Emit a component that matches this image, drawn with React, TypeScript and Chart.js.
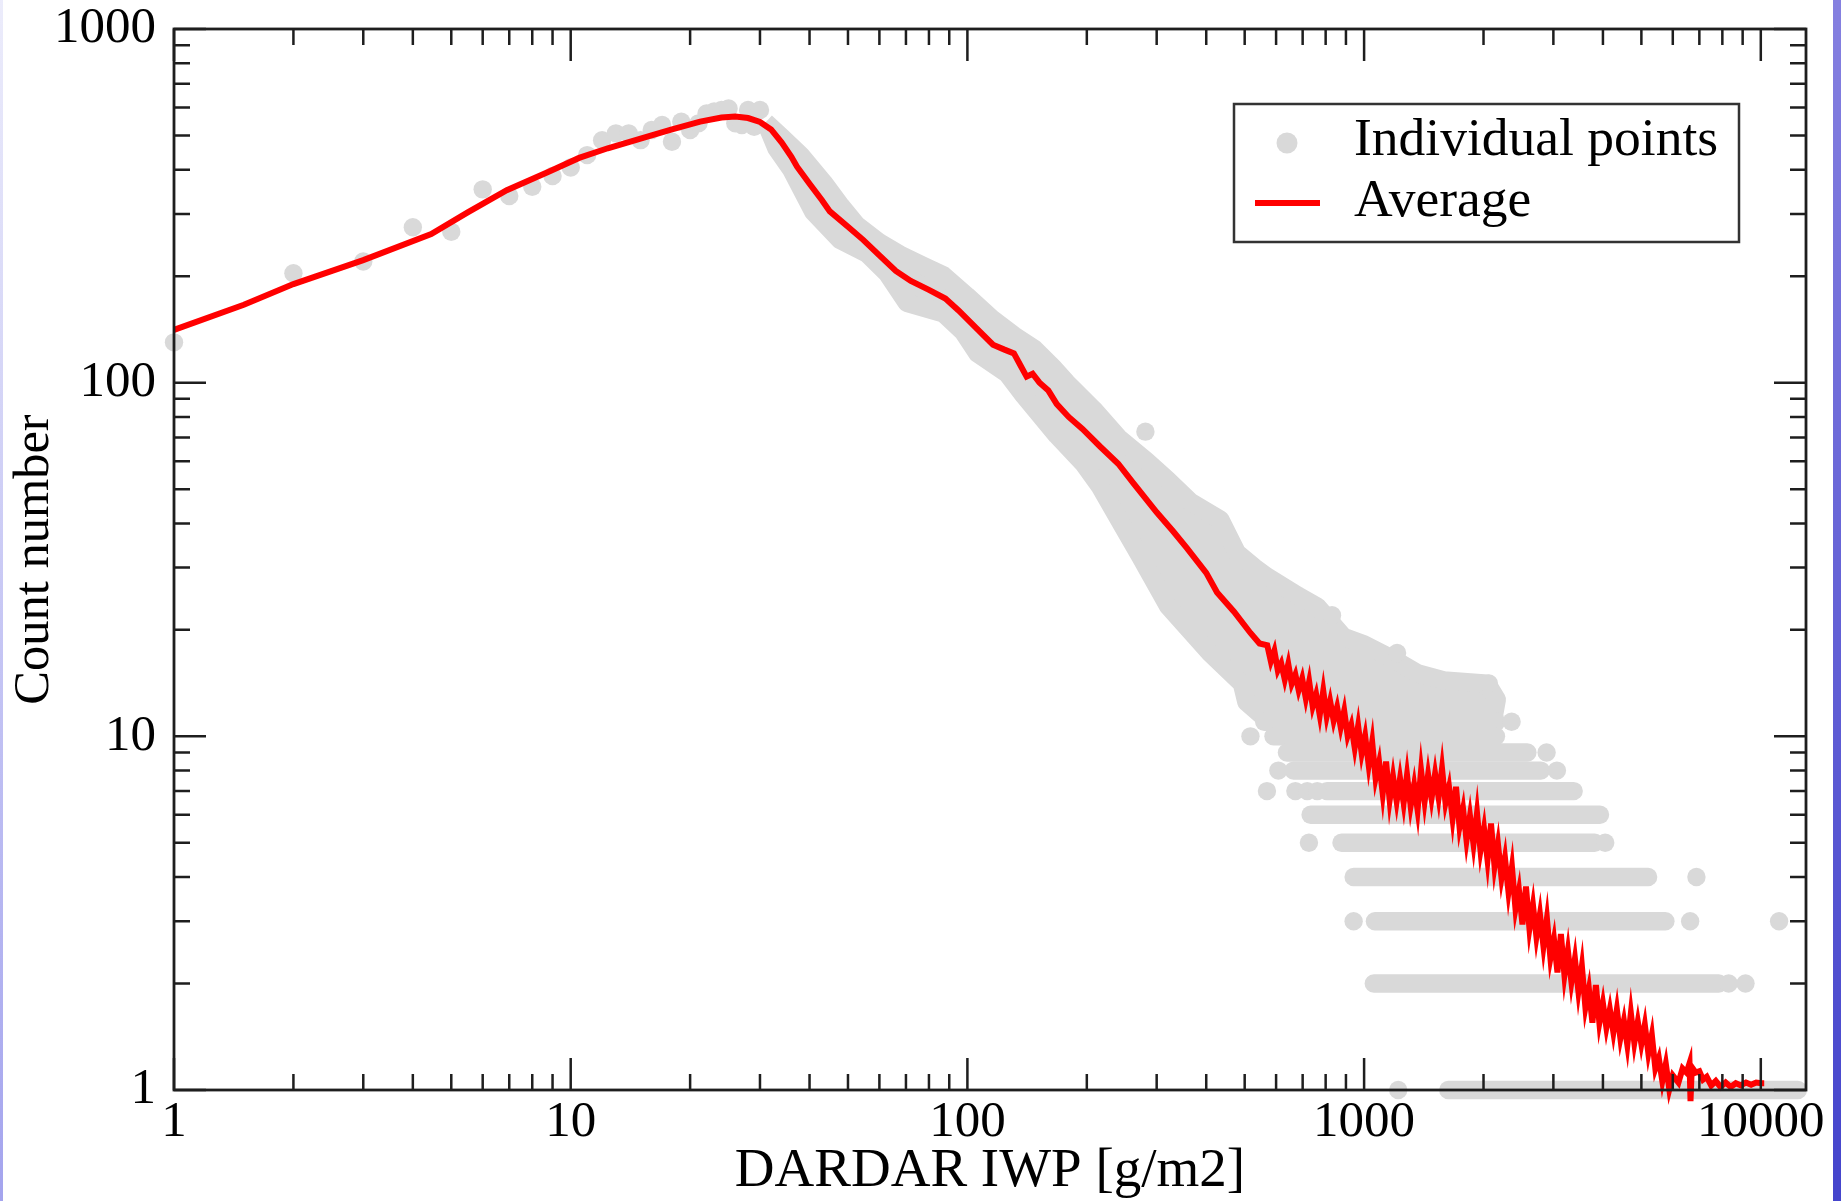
import React, { useEffect, useRef } from "react";
import { Chart, registerables } from "chart.js";

Chart.register(...registerables);

const W = 1841;
const H = 1201;
const FONT = "'Liberation Serif', 'Times New Roman', Times, serif";
const RED = "#ff0000";
const GRAY = "#d9d9d9";
const INK = "#1e1e1e";

// axis ranges and labelled ticks
const X_MIN = 1;
const X_MAX = 13000;
const Y_MIN = 1;
const Y_MAX = 1000;
const xTickValues = [1, 10, 100, 1000, 10000];
const yTickValues = [1, 10, 100, 1000];
const minorMultipliers = [2, 3, 4, 5, 6, 7, 8, 9];

// Average (red line): smooth part
const avgSmoothX = [
  1, 1.5, 2, 3, 4.45, 5.5, 6.9, 8.8, 10.5, 12.4, 15, 18, 21.2, 24, 26, 28, 30, 32, 34, 36,
  37.2, 40, 43, 45, 50, 54.7, 60, 66, 72, 80, 88, 95, 105, 116, 124, 131, 136, 141, 146, 152,
  160, 168, 180, 195, 216, 240, 262, 300, 330, 358, 400, 426, 470, 517, 545,
];
const avgSmoothY = [
  141, 166, 190, 222, 263, 303, 350, 395, 432, 460, 490, 520, 547, 562, 566, 560, 546, 520, 478, 435,
  408, 365, 328, 305, 276, 253, 229, 207, 194, 183, 173, 160, 143, 128, 124, 121, 112, 104, 106, 100,
  95, 87, 80, 74, 66, 59, 52, 43, 38, 34, 29, 25.5, 22.5, 19.6, 18.3,
];
// Average (red line): noisy part at large IWP
const avgNoisyX = [
  570, 582, 594, 606, 618, 631, 644, 657, 671, 684,
  698, 713, 727, 742, 757, 773, 789, 805, 821, 838,
  855, 873, 891, 909, 928, 947, 966, 986, 1006, 1027,
  1048, 1069, 1091, 1114, 1136, 1160, 1183, 1208, 1232, 1258,
  1283, 1310, 1337, 1364, 1392, 1421, 1450, 1479, 1510, 1541,
  1572, 1604, 1637, 1671, 1705, 1740, 1776, 1812, 1849, 1887,
  1926, 1965, 2006, 2047, 2089, 2132, 2175, 2220, 2265, 2312,
  2359, 2408, 2457, 2507, 2559, 2611, 2665, 2719, 2775, 2832,
  2890, 2949, 3010, 3072, 3134, 3199, 3264, 3331, 3400, 3469,
  3540, 3613, 3687, 3763, 3840, 3918, 3999, 4081, 4164, 4250,
  4337, 4426, 4517, 4609, 4704, 4800, 4898, 4999, 5101, 5206,
  5313, 5422, 5533, 5646, 5762, 5880, 6001,
  6200, 6350, 6500, 6612, 6650, 6700, 6850, 7000, 7150, 7305,
  7500, 7700, 7913, 8154, 8398, 8650, 8910, 9177, 9453, 9736, 10028, 10200,
];
const avgNoisyY = [
  18.1, 16.3, 17.44, 15.37, 16.09, 14.48, 16.02, 14.08, 14.95, 13.51,
  14.57, 12.81, 14.29, 12.16, 13.14, 11.49, 13.45, 11.39, 12.58, 11.08,
  12.1, 10.61, 11.81, 10.03, 10.76, 9.29, 10.71, 8.95, 10.02, 8.29,
  9.64, 7.61, 8.45, 6.89, 8.49, 6.6, 7.69, 6.54, 7.6, 6.47,
  7.78, 6.35, 7.29, 6.19, 8.01, 6.54, 7.79, 6.68, 7.84, 6.72,
  8.11, 6.48, 7.18, 5.87, 7.2, 5.54, 6.23, 5.08, 5.95, 4.96,
  6.07, 4.76, 5.49, 4.47, 5.67, 4.29, 4.96, 3.98, 4.54, 3.63,
  4.27, 3.25, 3.67, 2.94, 3.76, 2.86, 3.33, 2.71, 3.14, 2.55,
  3.05, 2.36, 2.67, 2.15, 2.76, 2.11, 2.48, 2.02, 2.35, 1.9,
  2.24, 1.71, 1.93, 1.55, 1.98, 1.55, 1.76, 1.5, 1.69, 1.455,
  1.69, 1.4, 1.57, 1.34, 1.65, 1.36, 1.56, 1.35, 1.53, 1.27,
  1.43, 1.15, 1.23, 1.06, 1.186, 1.005, 1.1,
  1.05, 1.15, 1.12, 1.19, 0.93, 1.16, 1.12, 1.13, 1.07, 1.09,
  1.03, 1.06, 1.02, 1.05, 1.02, 1.045, 1.03, 1.05, 1.035, 1.05, 1.045, 1.045,
];

// Individual points that stand on their own
const dotX = [
  1, 2, 3, 4, 5, 6, 7, 8, 9, 10, 11, 12, 13, 14, 15, 16, 17, 18, 19, 20,
  21, 22, 23, 24, 25, 26, 27, 28, 29, 30,
  281, 830, 1211, 2063, 517, 2354, 2884, 608, 3062, 569, 671, 719, 762, 726, 4053, 6882, 941, 6636, 11120, 8300, 9150, 1219,
];
const dotY = [
  130, 204, 220, 275, 267, 352, 337, 358, 384, 406, 440, 485, 507, 507, 485, 518, 535, 480, 547, 518,
  541, 577, 585, 590, 596, 541, 535, 590, 529, 590,
  72.7, 22, 17.2, 14.1, 10, 11, 9, 8, 8, 7, 7, 7, 7, 5, 5, 4, 3, 3, 3, 2, 2, 1,
];

// Rows of individual points at small integer counts (continuous runs)
const bandLevel = [1, 2, 3, 4, 5, 6, 7, 8, 9, 10, 11];
const bandStart = [1630, 1058, 1065, 941, 877, 733, 806, 664, 639, 591, 560];
const bandEnd = [12400, 7834, 5748, 5200, 3814, 3932, 3375, 2790, 2580, 2150, 2155];

// Outline of the dense cloud of individual points
const cloudX = [
  31, 34, 38, 43.4, 48, 52.6, 60, 67.7, 78, 87, 99.7, 115, 131, 147, 165, 178, 208, 240, 283, 320,
  365, 434, 478, 530, 569, 680, 761, 888, 1000, 1200, 1359, 1587, 2042, 2160, 2120, 560, 505, 492, 409, 321,
  273, 247, 216, 196, 168, 138.5, 126, 106, 97.7, 87, 70.4, 62.7, 55.8, 47.8, 40.9, 36, 33,
];
const cloudY = [
  545, 495, 440, 368, 316, 279, 249, 230, 213, 201, 176, 152, 136, 125, 110, 100, 84, 70, 60, 53,
  46, 41, 33, 30, 28.3, 25, 23.3, 19.1, 18.2, 16.4, 15.1, 14.4, 14.1, 12.7, 11.3, 11.3, 12.5, 14.1, 17.2, 23.3,
  32.2, 39.1, 50.8, 59.1, 71, 92.2, 106, 121, 139, 157, 168, 204, 232, 253, 304, 400, 460,
];

const MAJOR_LEN = 32;
const MINOR_LEN = 16;

const frameTicksPlugin = {
  id: "frameTicks",
  afterDatasetsDraw(chart: any) {
    const { ctx, chartArea: a, scales } = chart;
    const xs = scales.x;
    const ys = scales.y;
    ctx.save();
    ctx.strokeStyle = INK;
    ctx.lineWidth = 2.5;
    ctx.lineCap = "butt";
    ctx.beginPath();
    for (const d of xTickValues) {
      const p = xs.getPixelForValue(d);
      ctx.moveTo(p, a.bottom);
      ctx.lineTo(p, a.bottom - MAJOR_LEN);
      ctx.moveTo(p, a.top);
      ctx.lineTo(p, a.top + MAJOR_LEN);
      for (const m of minorMultipliers) {
        const v = d * m;
        if (v > X_MAX) continue;
        const q = xs.getPixelForValue(v);
        ctx.moveTo(q, a.bottom);
        ctx.lineTo(q, a.bottom - MINOR_LEN);
        ctx.moveTo(q, a.top);
        ctx.lineTo(q, a.top + MINOR_LEN);
      }
    }
    for (const d of yTickValues) {
      const p = ys.getPixelForValue(d);
      ctx.moveTo(a.left, p);
      ctx.lineTo(a.left + MAJOR_LEN, p);
      ctx.moveTo(a.right, p);
      ctx.lineTo(a.right - MAJOR_LEN, p);
      for (const m of minorMultipliers) {
        const v = d * m;
        if (v > Y_MAX) continue;
        const q = ys.getPixelForValue(v);
        ctx.moveTo(a.left, q);
        ctx.lineTo(a.left + MINOR_LEN, q);
        ctx.moveTo(a.right, q);
        ctx.lineTo(a.right - MINOR_LEN, q);
      }
    }
    ctx.stroke();
    ctx.lineWidth = 2.8;
    ctx.strokeRect(a.left, a.top, a.right - a.left, a.bottom - a.top);
    ctx.restore();
  },
};

const boxLegendPlugin = {
  id: "boxLegend",
  afterDraw(chart: any) {
    const ctx = chart.ctx;
    ctx.save();
    ctx.fillStyle = "#ffffff";
    ctx.fillRect(1234, 104, 505, 138);
    ctx.strokeStyle = "#333333";
    ctx.lineWidth = 2.5;
    ctx.strokeRect(1234, 104, 505, 138);
    ctx.fillStyle = GRAY;
    ctx.beginPath();
    ctx.arc(1287, 143, 10.5, 0, Math.PI * 2);
    ctx.fill();
    ctx.strokeStyle = RED;
    ctx.lineWidth = 6;
    ctx.beginPath();
    ctx.moveTo(1255, 203);
    ctx.lineTo(1320, 203);
    ctx.stroke();
    ctx.fillStyle = "#000000";
    ctx.font = `53.5px ${FONT}`;
    ctx.textAlign = "left";
    ctx.textBaseline = "alphabetic";
    ctx.fillText("Individual points", 1354, 155);
    ctx.fillText("Average", 1354, 216);
    ctx.restore();
  },
};

function pts(xs: number[], ys: number[]) {
  return xs.map((x, i) => ({ x, y: ys[i] }));
}

export default function App() {
  const ref = useRef<HTMLCanvasElement>(null);

  useEffect(() => {
    const canvas = ref.current;
    if (!canvas) return;

    const datasets: any[] = [];
    datasets.push({
      type: "line",
      label: "Average",
      data: [...pts(avgSmoothX, avgSmoothY), ...pts(avgNoisyX, avgNoisyY)],
      borderColor: RED,
      backgroundColor: RED,
      borderWidth: 6,
      pointRadius: 0,
      showLine: true,
      fill: false,
      tension: 0,
      clip: false,
      order: 0,
    });
    datasets.push({
      type: "scatter",
      label: "Individual points",
      data: pts(dotX, dotY),
      pointRadius: 9.2,
      pointBorderWidth: 0,
      pointBackgroundColor: GRAY,
      backgroundColor: GRAY,
      borderColor: GRAY,
      clip: false,
      order: 1,
    });
    bandLevel.forEach((lvl, i) => {
      datasets.push({
        type: "line",
        label: "",
        data: [
          { x: bandStart[i], y: lvl },
          { x: bandEnd[i], y: lvl },
        ],
        borderColor: GRAY,
        borderWidth: 18.4,
        borderCapStyle: "round",
        pointRadius: 0,
        showLine: true,
        fill: false,
        clip: false,
        order: 2,
      });
    });
    const cloud = pts(cloudX, cloudY);
    cloud.push({ ...cloud[0] });
    datasets.push({
      type: "line",
      label: "",
      data: cloud,
      borderColor: GRAY,
      backgroundColor: GRAY,
      borderWidth: 18.4,
      borderJoinStyle: "round",
      pointRadius: 0,
      showLine: true,
      fill: "shape",
      tension: 0,
      clip: false,
      order: 3,
    });

    const chart = new Chart(canvas, {
      type: "scatter",
      data: { datasets },
      plugins: [frameTicksPlugin, boxLegendPlugin],
      options: {
        responsive: false,
        animation: false,
        devicePixelRatio: 1,
        events: [],
        layout: { padding: { left: 0, top: 29, right: 35, bottom: 0 } },
        plugins: {
          legend: { display: false },
          tooltip: { enabled: false },
        },
        scales: {
          x: {
            type: "logarithmic",
            position: "bottom",
            min: X_MIN,
            max: X_MAX,
            grid: { display: false, drawTicks: false },
            border: { display: false },
            ticks: {
              font: { family: FONT, size: 51, lineHeight: 1 },
              color: "#000000",
              padding: 7,
              maxRotation: 0,
              minRotation: 0,
              autoSkip: false,
              callback: (v: any) => String(v),
            },
            afterBuildTicks: (s: any) => {
              s.ticks = xTickValues.map((v) => ({ value: v }));
            },
            afterFit: (s: any) => {
              s.height = 111;
              s.paddingLeft = 0;
              s.paddingRight = 0;
            },
            title: {
              display: true,
              text: "DARDAR IWP [g/m2]",
              color: "#000000",
              font: { family: FONT, size: 55, lineHeight: 1 },
              padding: { top: 0, bottom: 2 },
            },
          },
          y: {
            type: "logarithmic",
            position: "left",
            min: Y_MIN,
            max: Y_MAX,
            grid: { display: false, drawTicks: false },
            border: { display: false },
            ticks: {
              font: { family: FONT, size: 51, lineHeight: 1 },
              color: "#000000",
              padding: 18,
              autoSkip: false,
              callback: (v: any) => String(v),
            },
            afterBuildTicks: (s: any) => {
              s.ticks = yTickValues.map((v) => ({ value: v }));
            },
            afterFit: (s: any) => {
              s.width = 174;
              s.paddingTop = 0;
              s.paddingBottom = 0;
            },
            title: {
              display: true,
              text: "Count number",
              color: "#000000",
              font: { family: FONT, size: 50.5, lineHeight: 1 },
              padding: { top: 9, bottom: 0 },
            },
          },
        },
      } as any,
    });

    return () => chart.destroy();
  }, []);

  return (
    <div
      style={{
        position: "fixed",
        left: 0,
        top: 0,
        width: W,
        height: H,
        background: "#ffffff",
        overflow: "hidden",
      }}
    >
      <canvas ref={ref} width={W} height={H} style={{ display: "block", width: W, height: H }} />
      <div
        style={{
          position: "absolute",
          left: 0,
          top: 0,
          width: 3,
          height: H,
          background: "linear-gradient(#ececfb, #a4a4ee)",
        }}
      />
      <div
        style={{
          position: "absolute",
          left: 1833,
          top: 0,
          width: W - 1833,
          height: H,
          background: "linear-gradient(#8580e0, #4444cc)",
        }}
      />
    </div>
  );
}
